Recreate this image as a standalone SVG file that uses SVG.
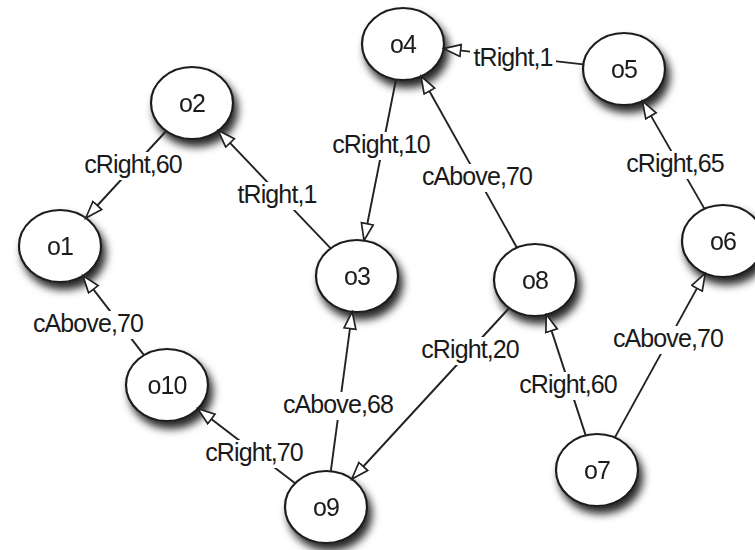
<svg xmlns="http://www.w3.org/2000/svg" width="755" height="550" viewBox="0 0 755 550">
  <defs>
    <filter id="shadow" x="-40%" y="-40%" width="190%" height="200%">
      <feGaussianBlur in="SourceAlpha" stdDeviation="4"/>
      <feOffset dx="4" dy="7" result="blur"/>
      <feFlood flood-color="#000" flood-opacity="0.85"/>
      <feComposite in2="blur" operator="in"/>
      <feMerge>
        <feMergeNode/>
        <feMergeNode in="SourceGraphic"/>
      </feMerge>
    </filter>
    <marker id="arr" markerWidth="20" markerHeight="15" refX="18" refY="7" orient="auto" markerUnits="userSpaceOnUse">
      <path d="M1,1 L18,7 L1,13 Z" fill="#fff" stroke="#222" stroke-width="1.7" stroke-linejoin="miter"/>
    </marker>
  </defs>
  <style>
    .node ellipse { fill: #fff; stroke: #1e1e1e; stroke-width: 2.2; }
    .node text { font-family: "Liberation Sans", Arial, sans-serif; font-size: 25px; fill: #1a1a1a; text-anchor: middle; letter-spacing: -0.9px; }
    .edge line { stroke: #222; stroke-width: 1.9; marker-end: url(#arr); }
    .lbl rect { fill: #fff; }
    .lbl text { font-family: "Liberation Sans", Arial, sans-serif; font-size: 25px; fill: #1a1a1a; text-anchor: middle; letter-spacing: -0.9px; }
  </style>
  <rect width="755" height="550" fill="#fff"/>

  <g id="nodes">
    <g id="o1" class="node" filter="url(#shadow)"><ellipse cx="60" cy="246" rx="41" ry="36"/><text x="60" y="255">o1</text></g>
    <g id="o2" class="node" filter="url(#shadow)"><ellipse cx="192" cy="103" rx="41" ry="36"/><text x="192" y="112">o2</text></g>
    <g id="o3" class="node" filter="url(#shadow)"><ellipse cx="357" cy="276" rx="41" ry="36"/><text x="357" y="285">o3</text></g>
    <g id="o4" class="node" filter="url(#shadow)"><ellipse cx="403" cy="44" rx="41" ry="36"/><text x="403" y="53">o4</text></g>
    <g id="o5" class="node" filter="url(#shadow)"><ellipse cx="624" cy="69" rx="41" ry="36"/><text x="624" y="78">o5</text></g>
    <g id="o6" class="node" filter="url(#shadow)"><ellipse cx="723" cy="241" rx="41" ry="36"/><text x="723" y="250">o6</text></g>
    <g id="o7" class="node" filter="url(#shadow)"><ellipse cx="597" cy="470" rx="41" ry="36"/><text x="597" y="479">o7</text></g>
    <g id="o8" class="node" filter="url(#shadow)"><ellipse cx="535" cy="280" rx="41" ry="36"/><text x="535" y="289">o8</text></g>
    <g id="o9" class="node" filter="url(#shadow)"><ellipse cx="326" cy="507" rx="41" ry="36"/><text x="326" y="516">o9</text></g>
    <g id="o10" class="node" filter="url(#shadow)"><ellipse cx="167" cy="385" rx="41" ry="36"/><text x="167" y="394">o10</text></g>
  </g>

  <g id="connectors">
    <!-- lines: from source boundary to target boundary, arrowhead at target -->
    <g class="edge">
      <line x1="166.2" y1="131.0" x2="85.8" y2="218.0"/>   <!-- o2 -> o1 -->
      <line x1="330.7" y1="248.4" x2="218.3" y2="130.6"/>  <!-- o3 -> o2 -->
      <line x1="396.0" y1="79.5" x2="364.0" y2="240.5"/>   <!-- o4 -> o3 -->
      <line x1="516.9" y1="247.7" x2="421.1" y2="76.3"/>   <!-- o8 -> o4 -->
      <line x1="583.3" y1="64.4" x2="443.7" y2="48.6"/>    <!-- o5 -> o4 -->
      <line x1="704.5" y1="208.9" x2="642.5" y2="101.1"/>  <!-- o6 -> o5 -->
      <line x1="144.0" y1="355.2" x2="83.0" y2="275.8"/>   <!-- o10 -> o1 -->
      <line x1="295.1" y1="483.3" x2="197.9" y2="408.7"/>  <!-- o9 -> o10 -->
      <line x1="330.8" y1="471.2" x2="352.2" y2="311.8"/>  <!-- o9 -> o3 -->
      <line x1="509.2" y1="308.0" x2="351.8" y2="479.0"/>  <!-- o8 -> o9 -->
      <line x1="585.7" y1="435.4" x2="546.3" y2="314.6"/>  <!-- o7 -> o8 -->
      <line x1="614.8" y1="437.6" x2="705.2" y2="273.4"/>  <!-- o7 -> o6 -->
    </g>
    <!-- edge labels on white boxes that break the lines -->
    <g class="lbl">
      <rect x="81" y="152" width="104" height="28"/><text x="133" y="173">cRight,60</text>
      <rect x="234" y="182" width="86" height="28"/><text x="277" y="203">tRight,1</text>
      <rect x="329" y="132" width="104" height="28"/><text x="381" y="153">cRight,10</text>
      <rect x="419" y="164" width="116" height="28"/><text x="477" y="185">cAbove,70</text>
      <rect x="470" y="45" width="86" height="28"/><text x="513" y="66">tRight,1</text>
      <rect x="623" y="151" width="104" height="28"/><text x="675" y="172">cRight,65</text>
      <rect x="30" y="311" width="116" height="28"/><text x="88" y="332">cAbove,70</text>
      <rect x="202" y="440" width="104" height="28"/><text x="254" y="461">cRight,70</text>
      <rect x="280" y="392" width="116" height="28"/><text x="338" y="413">cAbove,68</text>
      <rect x="418" y="337" width="104" height="28"/><text x="470" y="358">cRight,20</text>
      <rect x="516" y="372" width="104" height="28"/><text x="568" y="393">cRight,60</text>
      <rect x="610" y="326" width="116" height="28"/><text x="668" y="347">cAbove,70</text>
    </g>
  </g>
</svg>
